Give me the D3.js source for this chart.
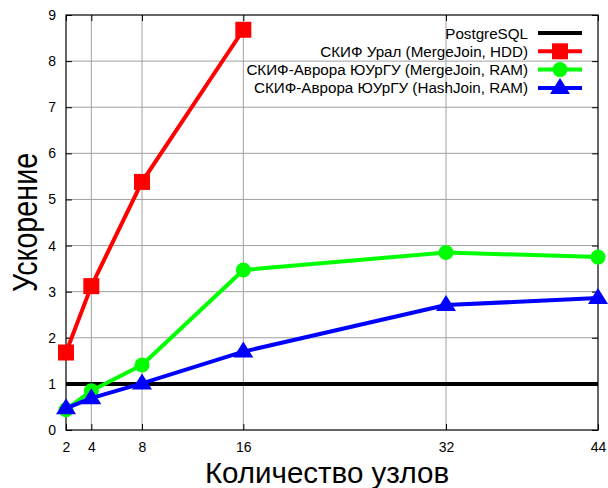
<!DOCTYPE html>
<html><head><meta charset="utf-8">
<script src="https://cdn.jsdelivr.net/npm/d3@7"></script>
<style>body{margin:0;background:#fff}svg{display:block}text{font-family:"Liberation Sans",Arial,sans-serif}</style>
</head><body>
<script>
const xTicks = [2, 4, 8, 16, 32, 44];
const yTicks = [0, 1, 2, 3, 4, 5, 6, 7, 8, 9];
const nodesUral = [2, 4, 8, 16];
const speedupUral = [1.68, 3.12, 5.38, 8.68];
const nodesAurora = [2, 4, 8, 16, 32, 44];
const speedupMerge = [0.44, 0.85, 1.41, 3.47, 3.85, 3.75];
const speedupHash = [0.47, 0.69, 1.01, 1.70, 2.71, 2.86];
const postgresNodes = [2, 44];
const postgresSpeedup = [1, 1];
const seriesNames = ["PostgreSQL", "СКИФ Урал (MergeJoin, HDD)", "СКИФ-Аврора ЮУрГУ (MergeJoin, RAM)", "СКИФ-Аврора ЮУрГУ (HashJoin, RAM)"];
const seriesColors = ["#000000", "#ff0000", "#00ff00", "#0000ff"];
const seriesMarkers = ["none", "square", "circle", "triangle"];

const W = 608, H = 488;
const m = {left: 66, right: 10, top: 15, bottom: 58};
const svg = d3.select("body").append("svg").attr("width", W).attr("height", H);
const x = d3.scaleLinear().domain([2, 44]).range([m.left, W - m.right]);
const y = d3.scaleLinear().domain([0, 9]).range([H - m.bottom, m.top]);

// grid
const g = svg.append("g");
g.selectAll(".vg").data(xTicks.slice(1, -1)).join("line")
  .attr("x1", d => x(d)).attr("x2", d => x(d)).attr("y1", y(0)).attr("y2", y(9))
  .attr("stroke", "#a0a0a0").attr("stroke-width", 1);
g.selectAll(".hg").data(yTicks.slice(1, -1)).join("line")
  .attr("x1", x(2)).attr("x2", x(44)).attr("y1", d => y(d)).attr("y2", d => y(d))
  .attr("stroke", "#a0a0a0").attr("stroke-width", 1);

// axes (ticks inward)
const ax = (gen, tr) => svg.append("g").attr("transform", tr).call(gen)
  .call(s => s.select(".domain").remove());
ax(d3.axisBottom(x).tickValues(xTicks).tickSize(-6).tickPadding(12), `translate(0,${y(0)})`);
ax(d3.axisTop(x).tickValues(xTicks).tickSize(-6).tickFormat(""), `translate(0,${y(9)})`);
ax(d3.axisLeft(y).tickValues(yTicks).tickSize(-6).tickPadding(10), `translate(${x(2)},0)`);
ax(d3.axisRight(y).tickValues(yTicks).tickSize(-6).tickFormat(""), `translate(${x(44)},0)`);
svg.selectAll(".tick line").attr("stroke", "#000");
svg.selectAll(".tick text").attr("font-size", 14).attr("fill", "#000")
  .style("font-family", '"Liberation Sans",Arial,sans-serif');

svg.append("rect").attr("x", x(2)).attr("y", y(9)).attr("width", x(44) - x(2)).attr("height", y(0) - y(9))
  .attr("fill", "none").attr("stroke", "#000").attr("stroke-width", 1.2);

// axis titles
svg.append("text").attr("x", 327).attr("y", 483).attr("text-anchor", "middle")
  .attr("font-size", 29.5).text("Количество узлов");
svg.append("text").attr("transform", `translate(37,222.5) rotate(-90) scale(0.82,1)`)
  .attr("text-anchor", "middle").attr("font-size", 35).text("Ускорение");

const line = d3.line().x(d => x(d[0])).y(d => y(d[1]));
function marker(sel, type, color, cx, cy) {
  if (type === "square") sel.append("rect").attr("x", cx - 8).attr("y", cy - 8).attr("width", 16).attr("height", 16).attr("fill", color);
  else if (type === "circle") sel.append("circle").attr("cx", cx).attr("cy", cy).attr("r", 7.5).attr("fill", color);
  else if (type === "triangle") sel.append("path").attr("d", `M${cx},${cy - 10}L${cx + 10},${cy + 6}L${cx - 10},${cy + 6}Z`).attr("fill", color);
}
const series = [
  d3.zip(postgresNodes, postgresSpeedup),
  d3.zip(nodesUral, speedupUral),
  d3.zip(nodesAurora, speedupMerge),
  d3.zip(nodesAurora, speedupHash)
];
const plot = svg.append("g");
series.forEach((data, i) => {
  plot.append("path").attr("d", line(data)).attr("fill", "none")
    .attr("stroke", seriesColors[i]).attr("stroke-width", 4).attr("stroke-linejoin", "round");
  if (seriesMarkers[i] !== "none") data.forEach(d => marker(plot, seriesMarkers[i], seriesColors[i], x(d[0]), y(d[1])));
});

// legend
const lg = svg.append("g");
seriesNames.forEach((name, i) => {
  const cy = 33 + i * 18.3;
  lg.append("text").attr("x", 528).attr("y", cy + 5.5).attr("text-anchor", "end").attr("font-size", 15.2).text(name);
  lg.append("line").attr("x1", 538).attr("x2", 582).attr("y1", cy).attr("y2", cy)
    .attr("stroke", seriesColors[i]).attr("stroke-width", 4);
  if (seriesMarkers[i] !== "none") marker(lg, seriesMarkers[i], seriesColors[i], 560, cy);
});
</script>
</body></html>
